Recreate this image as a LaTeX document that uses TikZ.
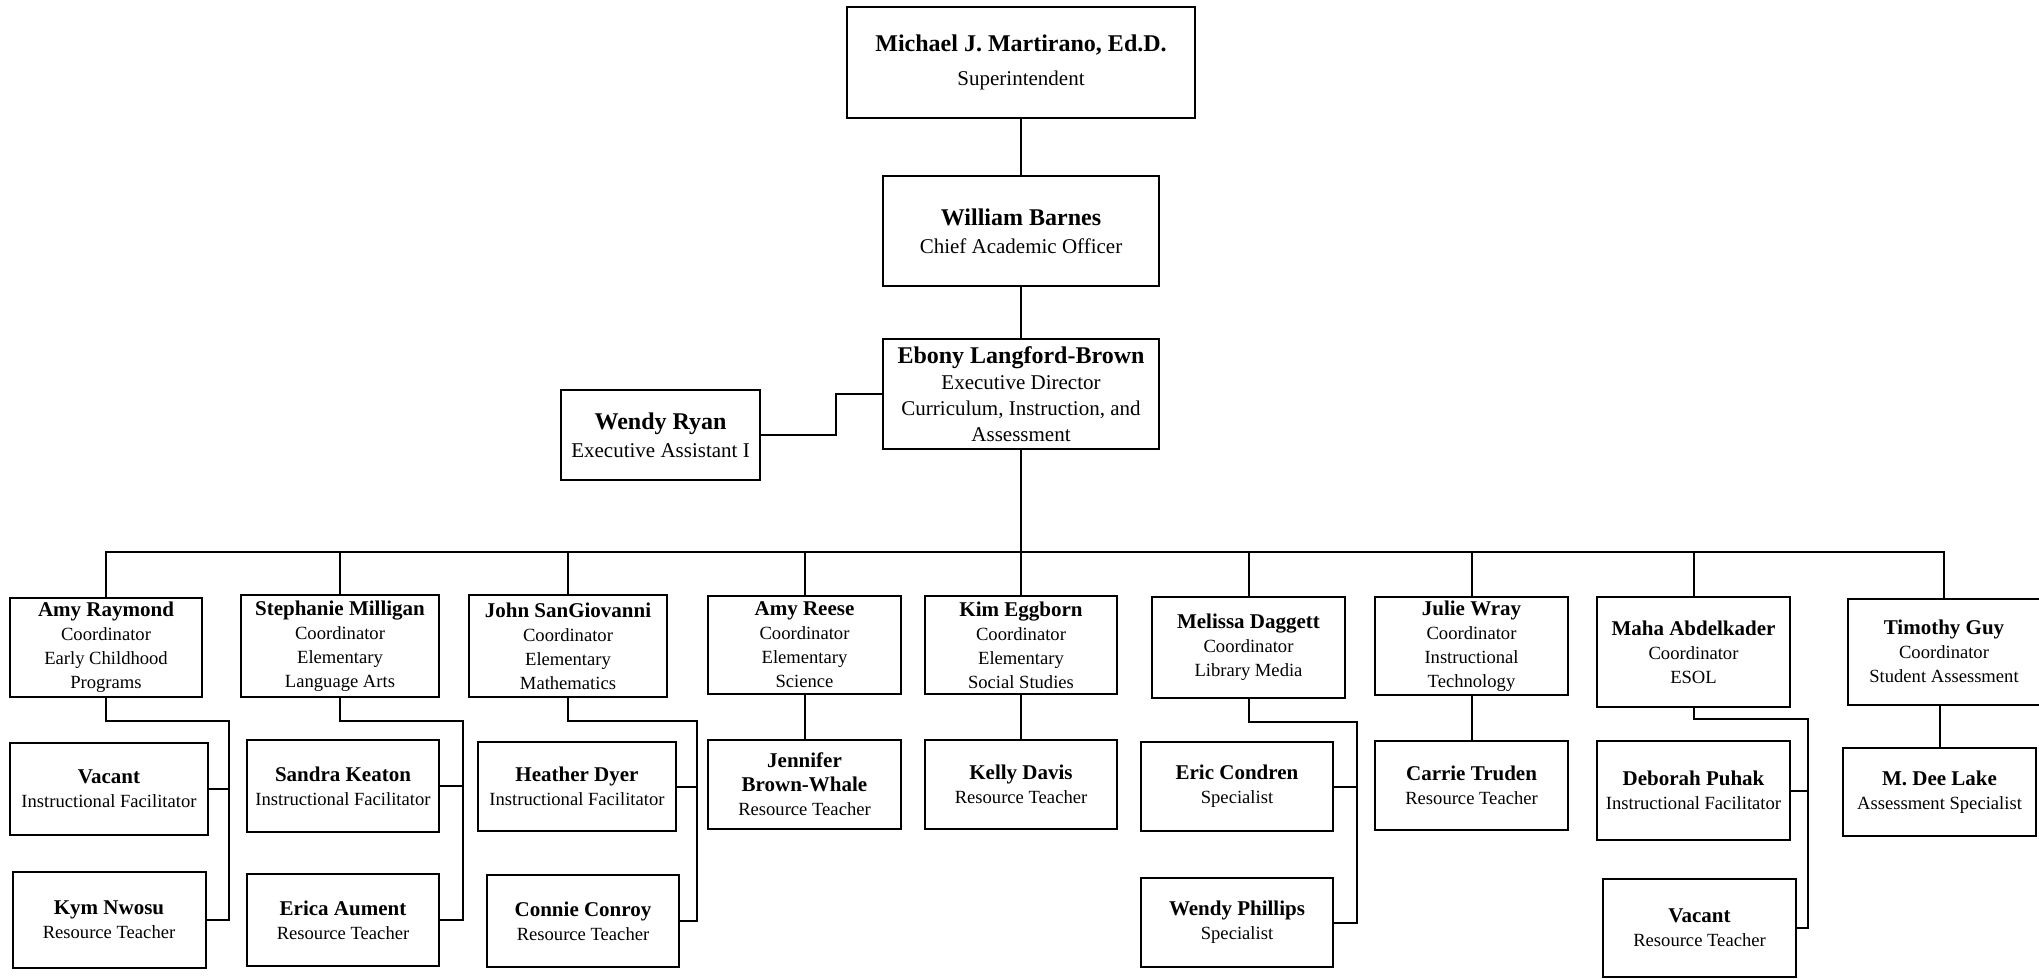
\documentclass[tikz,border=0pt]{standalone}
\usepackage{fontspec}
\setmainfont{Liberation Serif}
\usetikzlibrary{positioning,calc}

\newcommand{\bignm}[1]{{\fontsize{12}{14}\selectfont\bfseries #1}}
\newcommand{\nm}[1]{{\fontsize{10.5}{12.5}\selectfont\bfseries #1}}

\begin{document}
\begin{tikzpicture}[x=0.5pt,y=0.5pt,yscale=-1,
  conn/.style={line width=1pt},
  wh/.style 2 args={minimum width=#1*0.5pt, minimum height=#2*0.5pt},
  big/.style={draw, line width=1pt, align=center, inner sep=0pt, font=\fontsize{10.5}{13}\selectfont},
  small/.style={draw, line width=1pt, align=center, inner sep=0pt, font=\fontsize{9.3}{12}\selectfont}]
\useasboundingbox (0,0) rectangle (2039,979);

%Top of chart
\node[big, wh={348}{111}] (sup) at (1021,62.5) {\bignm{Michael J. Martirano, Ed.D.}\\[4pt]Superintendent};
\node[big, wh={276}{110}] (cao) at (1021,231) {\bignm{William Barnes}\\[1pt]Chief Academic Officer};
\node[big, wh={276}{110}] (dir) at (1021,394) {\bignm{Ebony Langford-Brown}\\Executive Director\\Curriculum, Instruction, and\\Assessment};
\node[big, wh={199}{90}] (asst) at (660.5,435) {\bignm{Wendy Ryan}\\[1pt]Executive Assistant I};

%Coordinators
\node[small, wh={192}{99}] (ray) at (106,647.5) {\nm{Amy Raymond}\\Coordinator\\Early Childhood\\Programs};
\node[small, wh={198}{102}] (mil) at (340,646) {\nm{Stephanie Milligan}\\Coordinator\\Elementary\\Language Arts};
\node[small, wh={198}{102}] (san) at (568,646) {\nm{John SanGiovanni}\\Coordinator\\Elementary\\Mathematics};
\node[small, wh={193}{98}] (ree) at (804.5,645) {\nm{Amy Reese}\\Coordinator\\Elementary\\Science};
\node[small, wh={192}{98}] (egg) at (1021,645) {\nm{Kim Eggborn}\\Coordinator\\Elementary\\Social Studies};
\node[small, wh={193}{101}] (dag) at (1248.5,647.5) {\nm{Melissa Daggett}\\Coordinator\\Library Media};
\node[small, wh={193}{98}] (wra) at (1471.5,646) {\nm{Julie Wray}\\Coordinator\\Instructional\\Technology};
\node[small, wh={193}{110}] (abd) at (1693.5,652) {\nm{Maha Abdelkader}\\Coordinator\\ESOL};
\node[small, wh={192}{106}] (guy) at (1944,651.5) {\nm{Timothy Guy}\\Coordinator\\Student Assessment};

%Staff
\node[small, wh={198}{92}] (vac1) at (109,789) {\nm{Vacant}\\Instructional Facilitator};
\node[small, wh={193}{96}] (nwo) at (109,920) {\nm{Kym Nwosu}\\Resource Teacher};
\node[small, wh={192}{92}] (kea) at (343,786) {\nm{Sandra Keaton}\\Instructional Facilitator};
\node[small, wh={192}{92}] (aum) at (343,920) {\nm{Erica Aument}\\Resource Teacher};
\node[small, wh={198}{89}] (dye) at (577,786.5) {\nm{Heather Dyer}\\Instructional Facilitator};
\node[small, wh={192}{92}] (cro) at (583,921) {\nm{Connie Conroy}\\Resource Teacher};
\node[small, wh={193}{89}] (bro) at (804.5,784.5) {\nm{Jennifer}\\\nm{Brown-Whale}\\Resource Teacher};
\node[small, wh={192}{89}] (dav) at (1021,784.5) {\nm{Kelly Davis}\\Resource Teacher};
\node[small, wh={192}{89}] (eri) at (1237,786.5) {\nm{Eric Condren}\\Specialist};
\node[small, wh={192}{89}] (phi) at (1237,922.5) {\nm{Wendy Phillips}\\Specialist};
\node[small, wh={193}{89}] (tru) at (1471.5,785.5) {\nm{Carrie Truden}\\Resource Teacher};
\node[small, wh={193}{99}] (puh) at (1693.5,790.5) {\nm{Deborah Puhak}\\Instructional Facilitator};
\node[small, wh={193}{98}] (vac2) at (1699.5,928) {\nm{Vacant}\\Resource Teacher};
\node[small, wh={193}{88}] (lak) at (1939.5,792) {\nm{M. Dee Lake}\\Assessment Specialist};

%Lines
\draw[conn] (sup) -- (cao);
\draw[conn] (cao) -- (dir);
\draw[conn] (asst.east) -- ++(75,0) |- (dir.west);
\draw[conn] (dir) -- (egg);
\coordinate (bus) at (0,552);
\draw[conn] (ray.north) -- (ray.north |- bus) -- (guy.north |- bus) -- (guy.north);
\foreach \n in {mil,san,ree,dag,wra,abd}
  \draw[conn] (\n.north) -- (\n.north |- bus);

\draw[conn] (ree) -- (bro);
\draw[conn] (egg) -- (dav);
\draw[conn] (wra) -- (tru);
\draw[conn] (lak.north) -- (lak.north |- guy.south);

\coordinate (rayk) at (229,721);
\coordinate (milk) at (463,721);
\coordinate (sank) at (697,721);
\coordinate (dagk) at (1357,722);
\coordinate (abdk) at (1808,719);
\draw[conn] (ray.south) |- (rayk) |- (nwo.east);
\draw[conn] (vac1.east) -- (vac1.east -| rayk);
\draw[conn] (mil.south) |- (milk) |- (aum.east);
\draw[conn] (kea.east) -- (kea.east -| milk);
\draw[conn] (san.south) |- (sank) |- (cro.east);
\draw[conn] (dye.east) -- (dye.east -| sank);
\draw[conn] (dag.south) |- (dagk) |- (phi.east);
\draw[conn] (eri.east) -- (eri.east -| dagk);
\draw[conn] (abd.south) |- (abdk) |- (vac2.east);
\draw[conn] (puh.east) -- (puh.east -| abdk);

\end{tikzpicture}
\end{document}
